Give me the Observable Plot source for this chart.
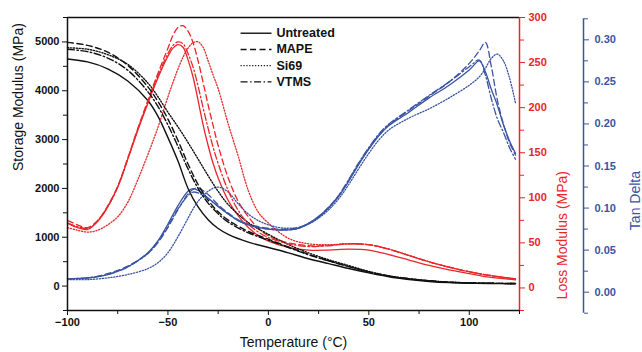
<!DOCTYPE html>
<html><head><meta charset="utf-8">
<script src="https://cdn.jsdelivr.net/npm/d3@7"></script>
<script src="https://cdn.jsdelivr.net/npm/@observablehq/plot@0.6"></script>
<style>body{margin:0;background:#fff;}</style>
</head><body><div id="chart"></div>
<script>
const seriesNames = ["Untreated", "MAPE", "Si69", "VTMS"];

const tempStorage = [-100,-90,-80,-70,-60,-55,-50,-45,-40,-35,-30,-25,-20,-10,0,10,20,30,40,50,60,70,80,90,100,110,123];
const storageUntreated = [4650,4590,4450,4200,3800,3480,3040,2560,2000,1620,1360,1180,1060,900,790,680,560,460,360,270,190,135,95,70,58,52,48];
const storageMAPE = [4990,4930,4790,4520,4080,3780,3420,2980,2500,2080,1760,1520,1350,1120,960,800,650,520,400,290,205,150,108,80,65,58,52];
const storageSi69 = [4880,4850,4740,4540,4160,3880,3560,3260,2940,2600,2260,1940,1670,1300,1060,850,680,540,420,300,210,152,110,82,66,58,52];
const storageVTMS = [4850,4800,4670,4420,3980,3680,3300,2860,2400,2000,1700,1480,1310,1090,940,790,640,515,400,290,205,150,108,80,65,58,52];

const tempLoss = [-100,-95,-90,-85,-80,-75,-70,-65,-60,-55,-50,-47.5,-45,-42.5,-40,-37.5,-35,-32.5,-30,-27.5,-25,-20,-15,-10,-5,0,10,20,30,40,50,60,70,80,90,100,110,123];
const lossUntreated = [72,67,65,74,90,112,143,175,205,233,257,266,270,267,253,234,208,181,158,138,122,97,80,67,58,52,45,42,42,43,42,37,31,25,20,16,12,9];
const lossMAPE = [75,70,67,75,91,113,144,177,208,238,266,280,289,291,285,272,252,228,203,180,158,122,96,79,66,58,50,47,47,49,48,43,36,29,23,18,14,10];
const lossSi69 = [67,64,62,64,70,79,95,120,148,178,212,228,243,256,266,272,273,267,252,236,221,182,146,108,84,72,55,49,48,49,48,43,36,29,23,18,14,10];
const lossVTMS = [72,68,66,74,90,112,143,176,206,235,260,269,273,271,260,245,224,200,177,156,138,108,86,71,62,56,49,46,47,49,48,43,36,29,23,18,14,10];

const tempTan = [-100,-90,-80,-70,-60,-55,-50,-45,-40,-37.5,-35,-30,-25,-20,-15,-10,-5,0,5,10,15,20,25,30,35,40,45,50,55,60,70,80,90,100,105,108,111,114,117,120,123];
const tanUntreated = [0.016,0.017,0.021,0.030,0.047,0.061,0.081,0.103,0.120,0.123,0.121,0.112,0.102,0.093,0.085,0.080,0.077,0.075,0.074,0.074,0.076,0.081,0.089,0.100,0.114,0.132,0.152,0.170,0.186,0.198,0.214,0.231,0.246,0.264,0.275,0.262,0.241,0.222,0.199,0.180,0.165];
const tanMAPE = [0.016,0.017,0.022,0.031,0.046,0.059,0.077,0.098,0.117,0.122,0.124,0.116,0.104,0.094,0.086,0.081,0.078,0.076,0.075,0.075,0.077,0.082,0.090,0.101,0.115,0.133,0.153,0.171,0.187,0.199,0.216,0.233,0.250,0.272,0.287,0.297,0.268,0.228,0.200,0.178,0.163];
const tanSi69 = [0.015,0.015,0.017,0.021,0.028,0.035,0.047,0.066,0.088,0.099,0.108,0.120,0.125,0.119,0.105,0.093,0.085,0.080,0.077,0.076,0.077,0.081,0.088,0.098,0.111,0.128,0.147,0.165,0.181,0.193,0.207,0.218,0.231,0.246,0.256,0.266,0.278,0.283,0.275,0.255,0.225];
const tanVTMS = [0.016,0.017,0.021,0.030,0.046,0.060,0.079,0.099,0.115,0.119,0.118,0.111,0.102,0.093,0.085,0.080,0.077,0.075,0.074,0.074,0.076,0.082,0.090,0.101,0.115,0.134,0.154,0.172,0.188,0.200,0.217,0.234,0.250,0.268,0.276,0.258,0.230,0.206,0.190,0.172,0.158];

const xTicks = [-100, -50, 0, 50, 100];
const xMinorTicks = [-75, -25, 25, 75, 125];
const storageTicks = [0, 1000, 2000, 3000, 4000, 5000];
const storageMinorTicks = [-500, 500, 1500, 2500, 3500, 4500, 5500];
const lossTicks = [0, 50, 100, 150, 200, 250, 300];
const lossMinorTicks = [-25, 25, 75, 125, 175, 225, 275];
const tanTicks = [0, 0.05, 0.10, 0.15, 0.20, 0.25, 0.30];
const tanMinorTicks = [-0.025, 0.025, 0.075, 0.125, 0.175, 0.225, 0.275, 0.325];

// styles
const BLACK = "#111", RED = "#e8262a", BLUE = "#3a54a4";
const dashes = {Untreated: null, MAPE: "6,3.5", Si69: "1.2,1.7", VTMS: "7,2.5,1.5,2.5"};
const FONT = "'Liberation Sans', Arial, Helvetica, sans-serif";

// map secondary axes onto the storage (left) scale
const toLoss = L => -500 + (L + 25) * 6000 / 325;
const fromLoss = S => (S + 500) * 325 / 6000 - 25;
const toTan = t => -125 + t * 5168 / 0.3;
const fromTan = S => (S + 125) * 0.3 / 5168;

const storage = {Untreated: storageUntreated, MAPE: storageMAPE, Si69: storageSi69, VTMS: storageVTMS};
const loss = {Untreated: lossUntreated, MAPE: lossMAPE, Si69: lossSi69, VTMS: lossVTMS};
const tan = {Untreated: tanUntreated, MAPE: tanMAPE, Si69: tanSi69, VTMS: tanVTMS};

const lineMarks = [];
for (const s of seriesNames) {
  const ds = dashes[s];
  const rowsS = tempStorage.map((T, i) => ({T, y: storage[s][i]}));
  const rowsL = tempLoss.map((T, i) => ({T, y: toLoss(loss[s][i])}));
  const rowsT = tempTan.map((T, i) => ({T, y: toTan(tan[s][i])}));
  lineMarks.push(Plot.line(rowsL, {x: "T", y: "y", stroke: RED, strokeWidth: 1.3, strokeDasharray: ds, curve: "catmull-rom"}));
  lineMarks.push(Plot.line(rowsT, {x: "T", y: "y", stroke: BLUE, strokeWidth: 1.3, strokeDasharray: ds, curve: "catmull-rom"}));
  lineMarks.push(Plot.line(rowsS, {x: "T", y: "y", stroke: BLACK, strokeWidth: 1.4, strokeDasharray: ds, curve: "catmull-rom"}));
}

const legendMarks = [];
seriesNames.forEach((s, i) => {
  const yy = 5178 - i * 332;
  legendMarks.push(Plot.ruleY([yy], {x1: -13.6, x2: 1.8, stroke: BLACK, strokeWidth: 1.4, strokeDasharray: dashes[s]}));
  legendMarks.push(Plot.text([s], {x: 4, y: yy, text: d => d, textAnchor: "start", fontWeight: "bold", fontSize: 12.5, fill: BLACK}));
});

const chart = Plot.plot({
  width: 642, height: 352,
  marginLeft: 67, marginRight: 123, marginTop: 17, marginBottom: 42,
  x: {domain: [-100, 125]},
  y: {domain: [-500, 5500]},
  style: {fontFamily: FONT, fontSize: "11px", background: "#fff", color: BLACK, overflow: "visible"},
  marks: [
    ...lineMarks,
    // frame
    Plot.ruleY([-500, 5500], {stroke: BLACK, strokeWidth: 1.5}),
    Plot.ruleX([-100], {stroke: BLACK, strokeWidth: 1.5}),
    Plot.ruleX([125], {stroke: RED, strokeWidth: 1.5}),
    // x axis
    Plot.axisX({ticks: xTicks, tickSize: 5, tickPadding: 3, fontWeight: "bold", fontSize: 11, label: null, color: BLACK}),
    Plot.axisX({ticks: xMinorTicks, tickSize: 4, tickFormat: () => "", label: null, color: BLACK}),
    // storage axis
    Plot.axisY({ticks: storageTicks, tickSize: 5, tickPadding: 3, fontWeight: "bold", fontSize: 11, label: null, tickFormat: d3.format("d"), color: BLACK}),
    Plot.axisY({ticks: storageMinorTicks, tickSize: 4, tickFormat: () => "", label: null, color: BLACK}),
    // loss axis
    Plot.axisY({anchor: "right", ticks: lossTicks.map(toLoss), tickSize: 5, tickPadding: 4, fontWeight: "bold", fontSize: 11, label: null, tickFormat: d => String(Math.round(fromLoss(d))), color: RED}),
    Plot.axisY({anchor: "right", ticks: lossMinorTicks.map(toLoss), tickSize: 4, tickFormat: () => "", label: null, color: RED}),
    // tan delta axis (offset)
    Plot.ruleX([125], {y1: toTan(-0.025), y2: toTan(0.325), dx: 64, stroke: BLUE, strokeWidth: 1.5}),
    Plot.axisY({anchor: "right", dx: 64, ticks: tanTicks.map(toTan), tickSize: 5, tickPadding: 6, fontWeight: "bold", fontSize: 11, label: null, tickFormat: d => d3.format(".2f")(fromTan(d)), color: BLUE}),
    Plot.axisY({anchor: "right", dx: 64, ticks: tanMinorTicks.map(toTan), tickSize: 4, tickFormat: () => "", label: null, color: BLUE}),
    // axis titles
    Plot.text(["Storage Modulus (MPa)"], {frameAnchor: "left", dx: -49, dy: 7, rotate: -90, fontSize: 14, fill: BLACK}),
    Plot.text(["Loss Modulus (MPa)"], {frameAnchor: "right", dx: 43, dy: 7, rotate: -90, fontSize: 14, fill: RED}),
    Plot.text(["Tan Delta"], {frameAnchor: "right", dx: 116, dy: 7, rotate: -90, fontSize: 14, fill: BLUE}),
    Plot.text(["Temperature (\u00B0C)"], {frameAnchor: "bottom", dy: 36, fontSize: 14, fill: BLACK}),
    ...legendMarks
  ]
});
document.getElementById("chart").appendChild(chart);
</script>
</body></html>
